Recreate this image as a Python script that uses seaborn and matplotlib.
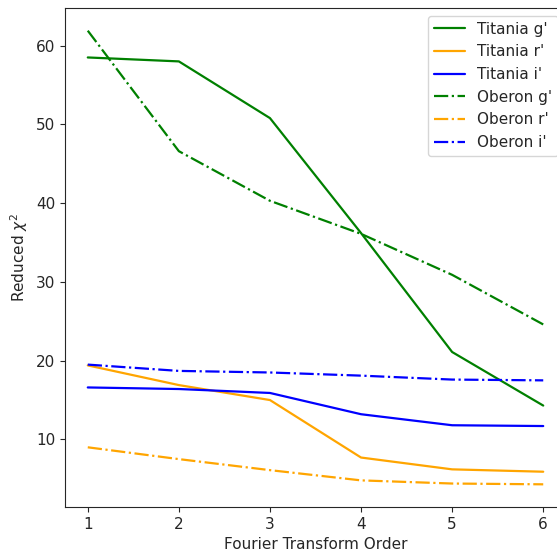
import matplotlib
matplotlib.use("Agg")
import matplotlib.pyplot as plt
import seaborn as sns
import pandas as pd

orders = [1, 2, 3, 4, 5, 6]
titania_g = [58.5, 58.0, 50.8, 36.2, 21.1, 14.3]
titania_r = [19.4, 16.9, 15.0, 7.7, 6.2, 5.9]
titania_i = [16.6, 16.4, 15.9, 13.2, 11.8, 11.7]
oberon_g = [61.9, 46.6, 40.3, 36.1, 30.9, 24.6]
oberon_r = [9.0, 7.5, 6.1, 4.8, 4.4, 4.3]
oberon_i = [19.5, 18.7, 18.5, 18.1, 17.6, 17.5]

series = [
    ("Titania g'", titania_g, "green", "-"),
    ("Titania r'", titania_r, "orange", "-"),
    ("Titania i'", titania_i, "blue", "-"),
    ("Oberon g'", oberon_g, "green", "-."),
    ("Oberon r'", oberon_r, "orange", "-."),
    ("Oberon i'", oberon_i, "blue", "-."),
]

sns.set_style("ticks")
plt.rcParams['font.family'] = ['DejaVu Sans']
plt.rcParams['font.size'] = 11

fig = plt.figure(figsize=(5.57, 5.54), dpi=100)
ax = fig.add_axes([65/557, (554-507)/554, (566-65)/557, (507-8)/554])

for label, vals, color, ls in series:
    df = pd.DataFrame({"order": orders, "chi2": vals})
    sns.lineplot(data=df, x="order", y="chi2", color=color, linestyle=ls,
                 label=label, ax=ax, linewidth=1.6)

ax.set_xlabel("Fourier Transform Order", fontsize=11)
ax.set_ylabel(r"Reduced $\chi^2$", fontsize=11)
ax.tick_params(labelsize=11)
ax.set_xticks(orders)
ax.legend(loc="upper right", fontsize=11)

fig.savefig("out.png", dpi=100)
